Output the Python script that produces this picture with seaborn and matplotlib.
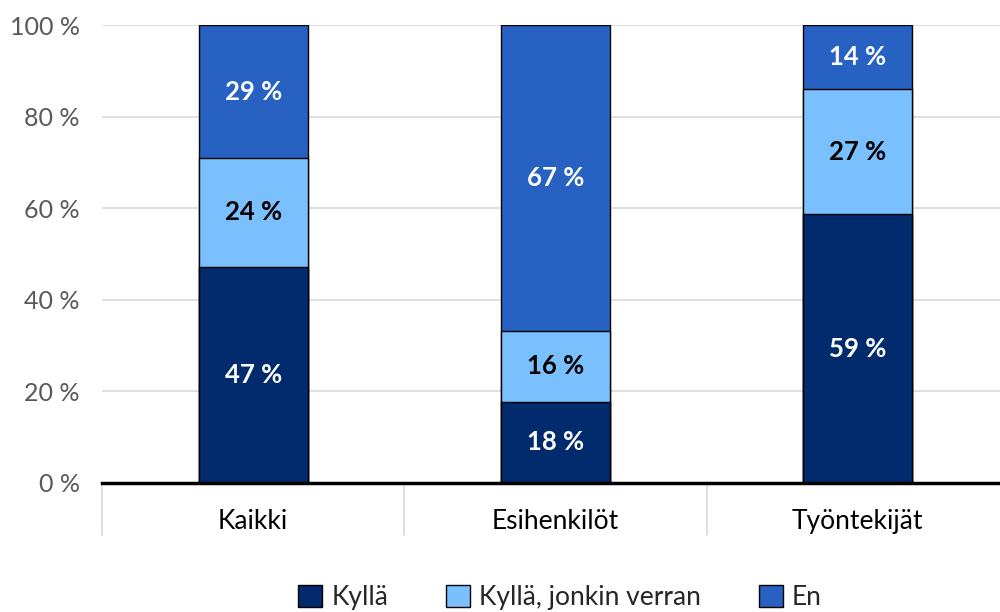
import matplotlib.pyplot as plt
import seaborn as sns
import pandas as pd
from matplotlib.patches import Patch

categories = ['Kaikki', 'Esihenkilöt', 'Työntekijät']
kylla = [47.2, 17.7, 58.7]
jonkin_verran = [23.8, 15.5, 27.3]
en = [29.0, 66.8, 14.0]
series_names = ['Kyllä', 'Kyllä, jonkin verran', 'En']
colors = ['#012B6C', '#7ABFFE', '#2762C3']
label_colors = ['white', 'black', 'white']

sns.set_style('white')
plt.rcParams['font.family'] = ['Lato', 'DejaVu Sans']

df = pd.DataFrame({'category': categories, 'Kyllä': kylla,
                   'Kyllä, jonkin verran': jonkin_verran, 'En': en})
df['c1'] = df['Kyllä']
df['c2'] = df['c1'] + df['Kyllä, jonkin verran']
df['c3'] = df['c2'] + df['En']

fig = plt.figure(figsize=(10, 6.12), dpi=100)
ax = fig.add_axes([0.102, 0.2108, 0.907, 0.748])

# stacked bars: draw cumulative totals from the top down
for col, color in zip(['c3', 'c2', 'c1'], colors[::-1]):
    sns.barplot(data=df, x='category', y=col, color=color, width=0.36,
                edgecolor='black', linewidth=1, saturation=1, ax=ax, zorder=3)

# value labels
for i, row in df.iterrows():
    bottom = 0
    for name, lc in zip(series_names, label_colors):
        v = row[name]
        ax.text(i, bottom + v / 2, f'{v:.0f} %', ha='center', va='center',
                color=lc, fontsize=18.5, fontweight='bold', zorder=4)
        bottom += v

ax.set_ylim(0, 100)
ax.set_xlim(-0.5, 2.5)
ax.set_yticks(range(0, 101, 20))
ax.set_yticklabels([f'{t} %' for t in range(0, 101, 20)])
ax.set_xlabel('')
ax.set_ylabel('')
ax.grid(axis='y', color='#d9d9d9', linewidth=1.2, zorder=0)
ax.set_axisbelow(True)
for s in ['top', 'right', 'left']:
    ax.spines[s].set_visible(False)
ax.spines['bottom'].set_color('black')
ax.spines['bottom'].set_linewidth(2.5)
ax.spines['bottom'].set_zorder(5)
ax.tick_params(axis='y', length=0, pad=16, labelsize=18, labelcolor='#595959')
ax.tick_params(axis='x', length=0, pad=19, labelsize=19, labelcolor='black')

# category separators below the axis
trans = ax.get_xaxis_transform()
for xpos in [-0.5, 0.5, 1.5, 2.5]:
    ax.plot([xpos, xpos], [0, -0.114], color='#d9d9d9', linewidth=1.2,
            transform=trans, clip_on=False)

handles = [Patch(facecolor=c, edgecolor='black', label=n)
           for c, n in zip(colors, series_names)]
fig.legend(handles=handles, loc='center', bbox_to_anchor=(0.56, 0.023),
           ncol=3, frameon=False, fontsize=19, handlelength=0.9,
           handleheight=0.9, handletextpad=0.35, columnspacing=2.2)

fig.savefig('out.png', dpi=100)
